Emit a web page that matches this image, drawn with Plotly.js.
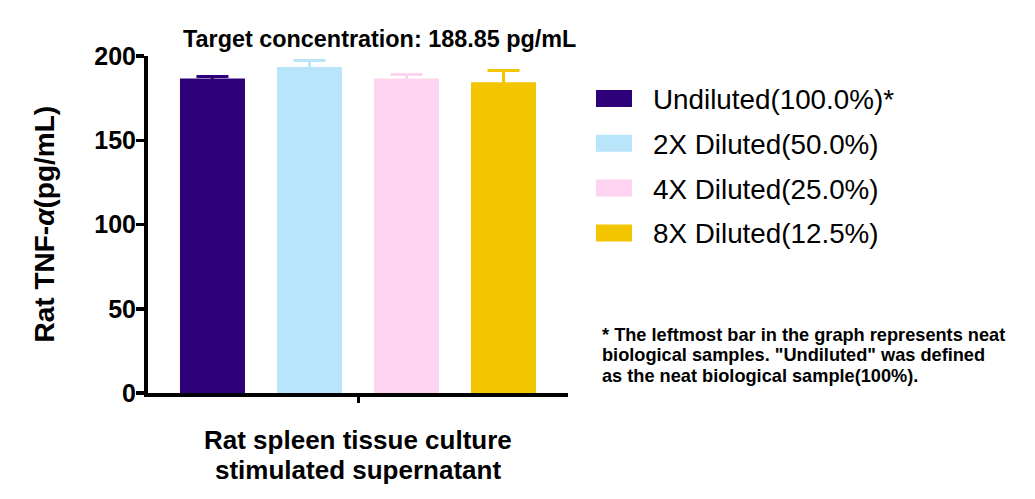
<!DOCTYPE html>
<html>
<head>
<meta charset="utf-8">
<script src="https://cdn.plot.ly/plotly-3.0.1.min.js"></script>
<style>html,body{margin:0;padding:0;background:#fff;}#chart{width:1035px;height:499px;}</style>
</head>
<body>
<div id="chart"></div>
<script>
// ---- data ----
var category = ["Rat spleen tissue culture<br>stimulated supernatant"];
var seriesNames = ["Undiluted(100.0%)*", "2X Diluted(50.0%)", "4X Diluted(25.0%)", "8X Diluted(12.5%)"];
var seriesValues = [186.6, 193.5, 186.6, 184.4];
var seriesErrors = [1.3, 3.9, 2.4, 7.0];
var seriesColors = ["#2E0079", "#B8E5FA", "#FDD3EF", "#F2C500"];
var yTickValues = [0, 50, 100, 150, 200];
var titleText = "Target concentration: 188.85 pg/mL";
var yTitleText = "Rat TNF-<i>α</i>(pg/mL)";
var footnoteLines = [
  "* The leftmost bar in the graph represents neat",
  "biological samples. \"Undiluted\" was defined",
  "as the neat biological sample(100%)."
];

// ---- layout geometry ----
var FONT = "Liberation Sans, Arial, Helvetica, sans-serif";
var W = 1035, H = 499;
var M = {l: 148, r: 467, t: 56, b: 105.5};
var PW = W - M.l - M.r, PH = H - M.t - M.b;
function px2x(px) { return (px - M.l) / PW; }
function py2y(py) { return (H - M.b - py) / PH; }

var traces = seriesNames.map(function (name, i) {
  return {
    type: "bar",
    name: name,
    x: category,
    y: [seriesValues[i]],
    marker: {color: seriesColors[i], line: {width: 0}},
    error_y: {type: "data", array: [seriesErrors[i]], symmetric: true,
              color: seriesColors[i], thickness: 3, width: 16},
    showlegend: false,
    hoverinfo: "y+name"
  };
});

var shapes = [];
var annotations = [];
var legendTop = 98.5, legendStep = 44.9;
seriesNames.forEach(function (name, i) {
  var cy = legendTop + i * legendStep;
  shapes.push({type: "rect", xref: "paper", yref: "paper",
    x0: px2x(596), x1: px2x(632), y0: py2y(cy + 8.5), y1: py2y(cy - 8.5),
    fillcolor: seriesColors[i], line: {width: 0}});
  annotations.push({xref: "paper", yref: "paper", x: px2x(651), y: py2y(cy + 1),
    xanchor: "left", yanchor: "middle", showarrow: false, text: name,
    font: {family: FONT, size: 27.8, color: "#000"}});
});

annotations.push({xref: "paper", yref: "paper", x: px2x(379), y: py2y(39),
  xanchor: "center", yanchor: "middle", showarrow: false, text: titleText,
  font: {family: FONT, size: 23.4, color: "#000", weight: 700}});

annotations.push({xref: "paper", yref: "paper", x: px2x(44), y: 0.5,
  xanchor: "center", yanchor: "middle", showarrow: false, text: yTitleText,
  textangle: -90, font: {family: FONT, size: 28, color: "#000", weight: 700}});

// category label: one annotation per line, placed under the category position
category[0].split("<br>").forEach(function (line, i) {
  annotations.push({xref: "x", yref: "paper", x: category[0], y: py2y(441 + i * 29.3),
    xanchor: "center", yanchor: "middle", showarrow: false, text: line,
    font: {family: FONT, size: 26, color: "#000", weight: 700}});
});

var footTop = 335, footStep = 20.5;
footnoteLines.forEach(function (line, i) {
  annotations.push({xref: "paper", yref: "paper", x: px2x(600), y: py2y(footTop + i * footStep),
    xanchor: "left", yanchor: "middle", showarrow: false, text: line,
    font: {family: FONT, size: 18.2, color: "#000", weight: 700}});
});

var layout = {
  width: W, height: H,
  margin: M,
  paper_bgcolor: "#fff", plot_bgcolor: "#fff",
  barmode: "group",
  bargap: 0.076,
  bargroupgap: 0.33,
  showlegend: false,
  xaxis: {
    type: "category",
    range: [-0.5, 0.5],
    showline: true, linecolor: "#000", linewidth: 4,
    ticks: "outside", ticklen: 6, tickwidth: 3, tickcolor: "#000",
    showticklabels: false, showgrid: false, zeroline: false, fixedrange: true
  },
  yaxis: {
    range: [0, 200],
    tickvals: yTickValues,
    ticktext: yTickValues.map(String),
    showline: true, linecolor: "#000", linewidth: 4,
    ticks: "outside", ticklen: 8, tickwidth: 3.5, tickcolor: "#000",
    ticklabelstandoff: -5,
    tickfont: {family: FONT, size: 25, color: "#000", weight: 700},
    showgrid: false, zeroline: false, fixedrange: true
  },
  shapes: shapes,
  annotations: annotations
};

Plotly.newPlot("chart", traces, layout, {displayModeBar: false, staticPlot: true});
</script>
</body>
</html>
